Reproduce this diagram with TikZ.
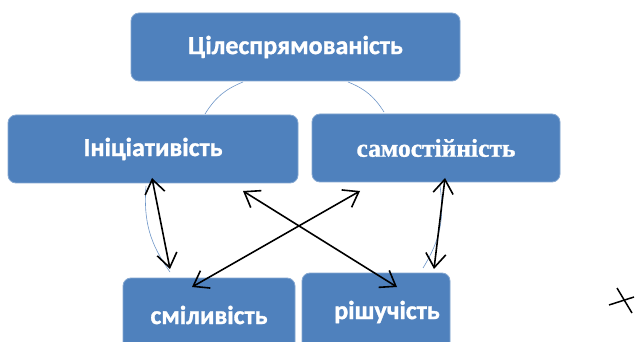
\documentclass[tikz,border=0pt]{standalone}
\usepackage{fontspec}
\setmainfont{Carlito}
\newfontfamily\heavy[FakeBold=1.2]{Carlito}
\newfontfamily\serifb[FakeBold=1.2]{Liberation Serif}
\usetikzlibrary{arrows.meta}
\definecolor{boxblue}{RGB}{79,129,189}
\definecolor{arcblue}{RGB}{110,150,200}
\tikzset{
  box/.style={draw=boxblue!70!white, line width=0.8pt, fill=boxblue, rounded corners=8pt, text=white, font=\heavy\bfseries\fontsize{26}{30}\selectfont, inner sep=0pt},
  arcline/.style={draw=arcblue, line width=0.6pt},
  dbl/.style={line width=1.6pt, {Straight Barb[length=14pt,width=20pt]}-{Straight Barb[length=14pt,width=20pt]}},
}
\begin{document}
\begin{tikzpicture}[x=1pt,y=-1pt]
\useasboundingbox[fill=white] (0,0) rectangle (635,342);
% arcs
\draw[arcline] (243,82) to[bend right=18] (205,114);
\draw[arcline] (348,82) to[bend left=18] (384,112);
\draw[arcline] (146,186) to[bend right=20] (170,272);
\draw[arcline] (440,186) to[bend left=20] (423,268);
% boxes
\node[box, minimum width=329pt, minimum height=68pt] (top) at (295.5,47) {Цілеспрямованість};
\node[box, minimum width=290pt, minimum height=68pt] (ini) at (153,149) {Ініціативість};
\node[box, minimum width=248pt, minimum height=68pt, font=\serifb\bfseries\fontsize{25.5}{28}\selectfont] (sam) at (436,148) {самостійність};
\node[box, minimum width=172pt, minimum height=74pt] (smi) at (209,315) {сміливість};
\node[box, minimum width=148pt, minimum height=78pt] (rish) at (376,312) {\hspace*{22pt}рішучість};
% arrow ends
\coordinate (a1) at (152,178);
\coordinate (b1) at (170,269);
\coordinate (a2) at (445,178);
\coordinate (b2) at (434,269);
\coordinate (a3) at (243,191);
\coordinate (b3) at (397,287);
\coordinate (a4) at (360,191);
\coordinate (b4) at (192,287);
\draw[dbl] (a1) -- (b1);
\draw[dbl] (a2) -- (b2);
\draw[dbl] (a3) -- (b3);
\draw[dbl] (a4) -- (b4);
% small mark
\coordinate (m1) at (617,288);
\coordinate (m2) at (632,313);
\coordinate (m3) at (609,305);
\coordinate (m4) at (634,297);
\draw[line width=1.5pt] (m1) -- (m2);
\draw[line width=1.5pt] (m3) -- (m4);
\end{tikzpicture}
\end{document}
